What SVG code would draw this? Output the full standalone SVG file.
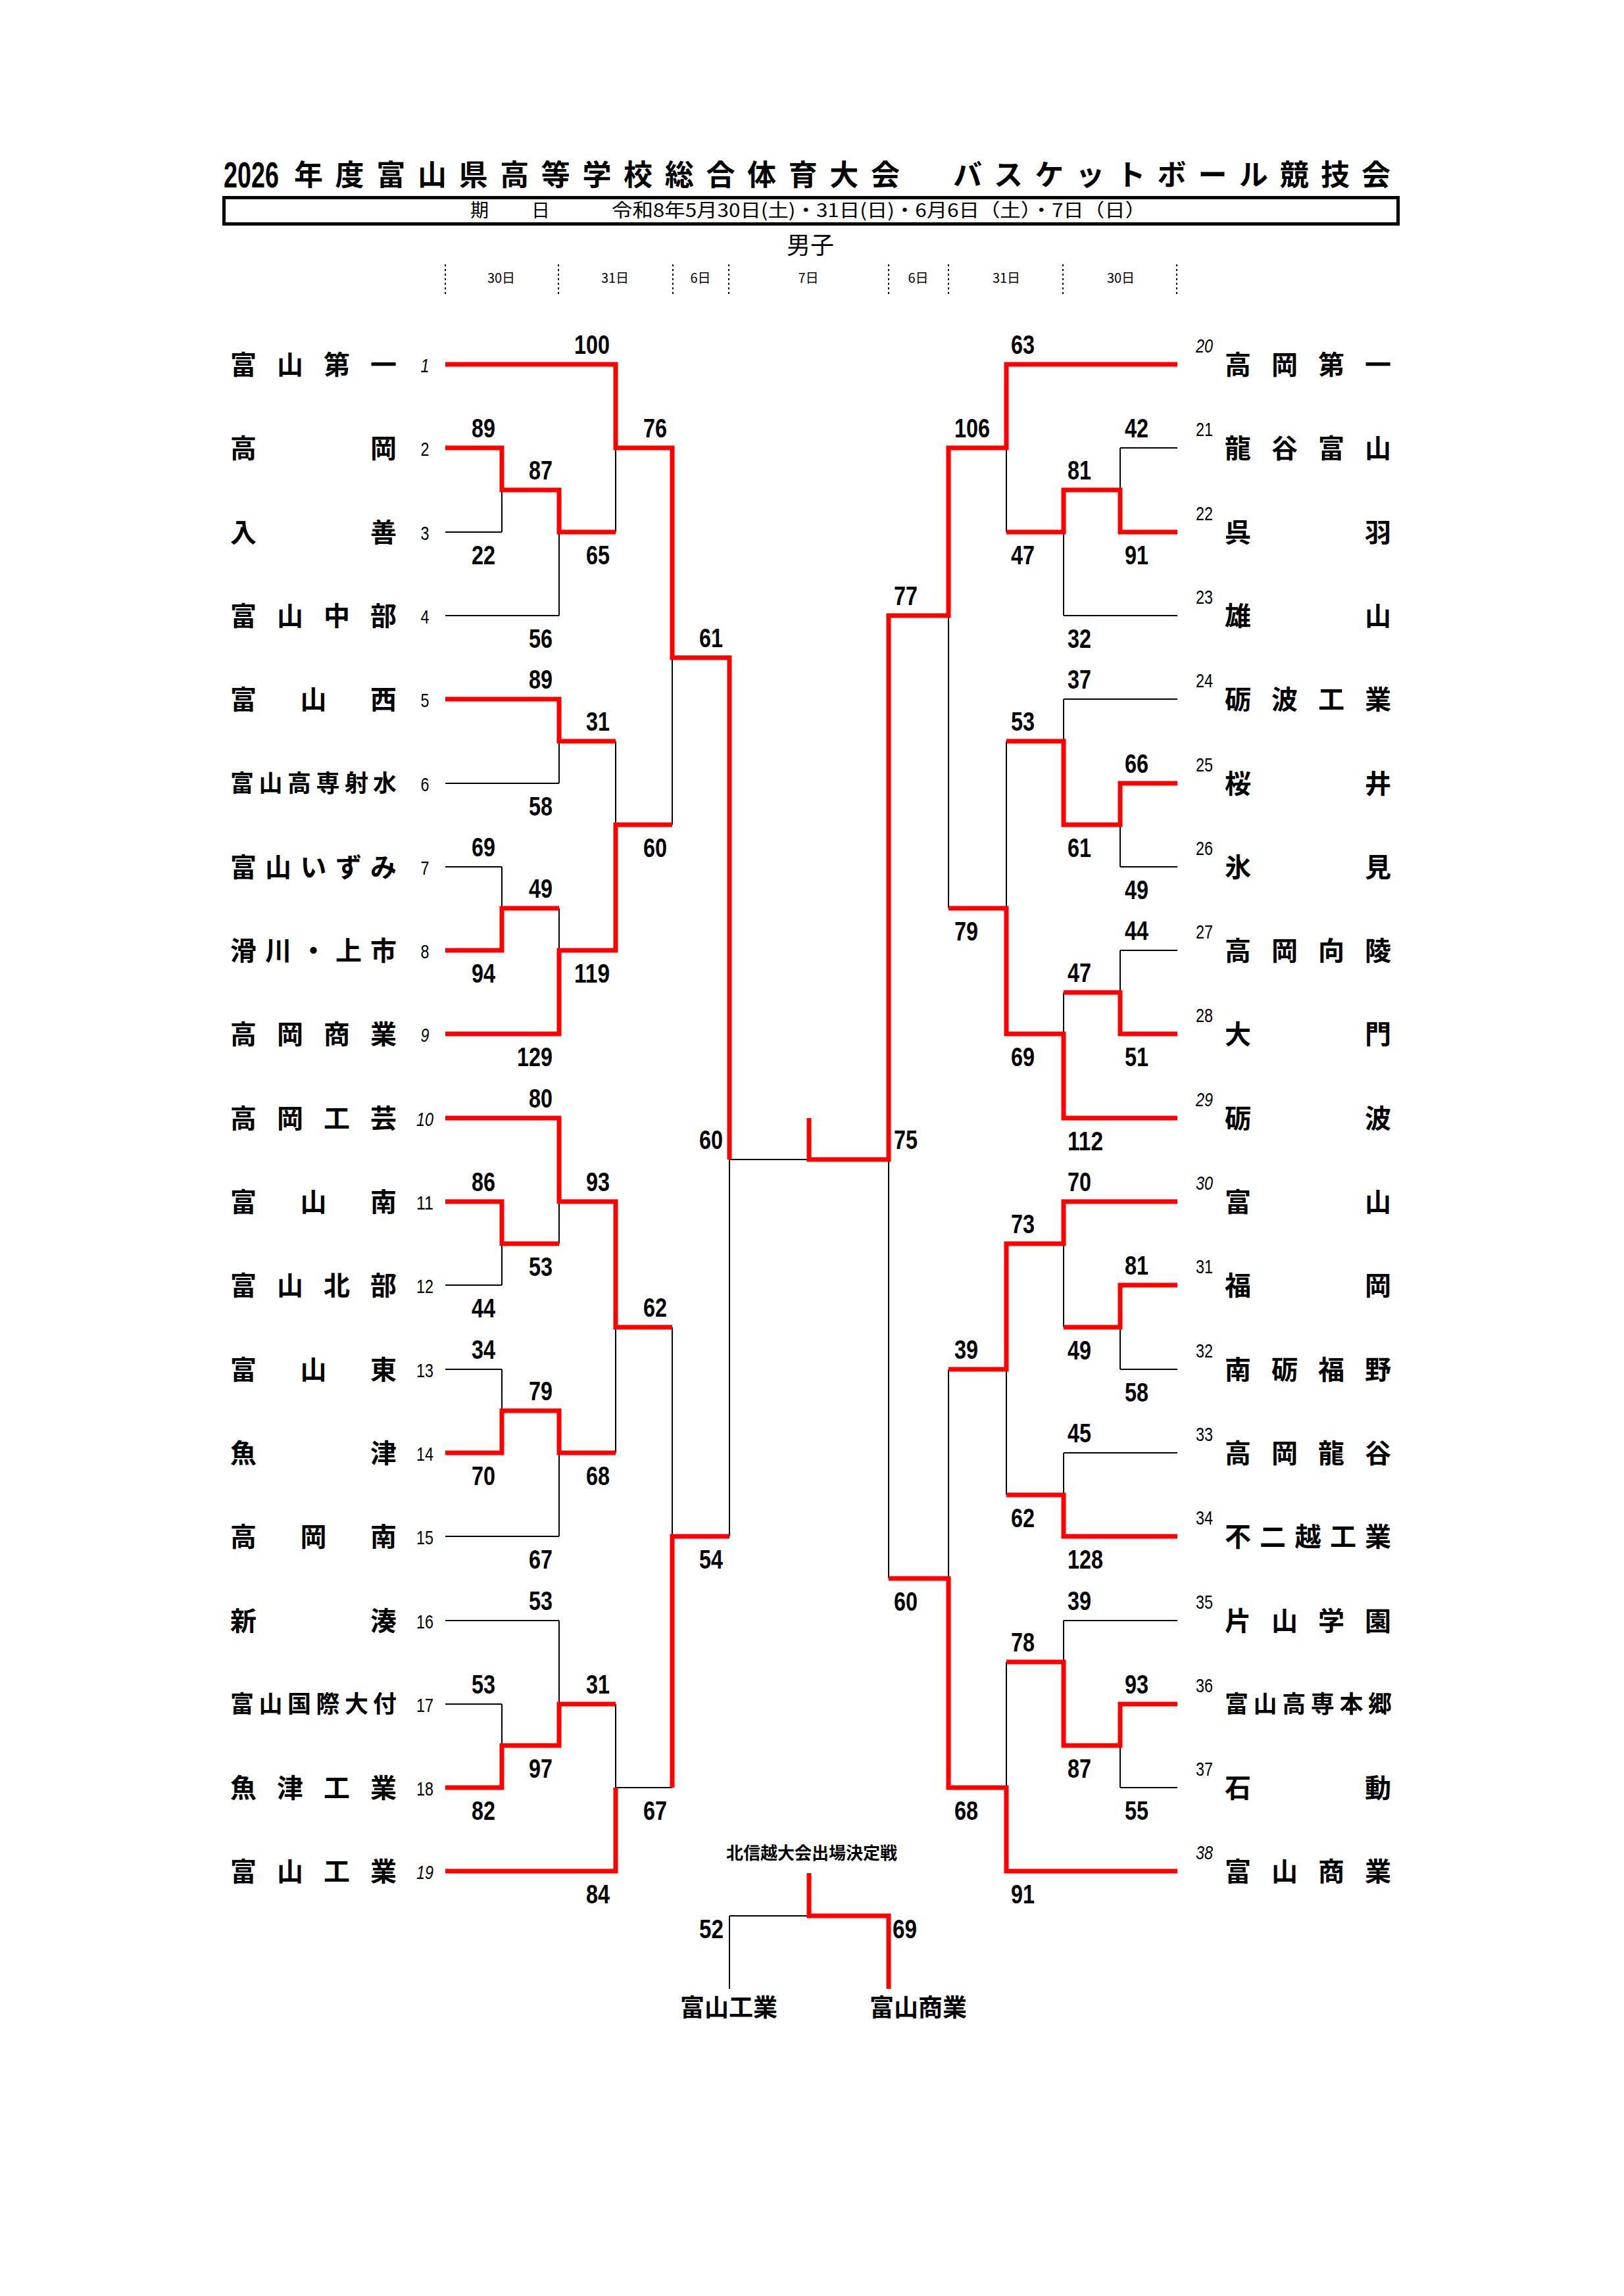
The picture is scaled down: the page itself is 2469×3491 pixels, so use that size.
<svg xmlns="http://www.w3.org/2000/svg" width="2469" height="3491" viewBox="0 0 2469 3491">
<style>
.r{fill:none;stroke:#ff0000;stroke-width:7;stroke-linejoin:miter}
.k{fill:none;stroke:#000;stroke-width:2}
.dot{fill:none;stroke:#000;stroke-width:2;stroke-dasharray:3 4}
.jp{font-family:"Noto Sans CJK JP",sans-serif}
.nm{font-family:"Noto Sans CJK JP",sans-serif;font-weight:700;font-size:40px;text-anchor:middle}
.n6{font-size:36px}
.sc{font-family:"Liberation Sans",sans-serif;font-weight:700;font-size:41px}
.sd{font-family:"Liberation Sans",sans-serif;font-size:30px}
.it{font-style:italic}
.hd{font-family:"Noto Sans CJK JP",sans-serif;font-size:20px;text-anchor:middle}
</style>
<rect width="2469" height="3491" fill="#fff"/>
<g id="header">
<text class="sc" x="340" y="285" transform="matrix(1 0 0 1.25 0 -71.25)" style="font-size:44px" textLength="84" lengthAdjust="spacingAndGlyphs">2026</text>
<text class="nm" y="282" x="469 531.6 594.3 656.9 719.6 782.2 844.8 907.5 970.1 1032.8 1095.4 1158 1220.7 1283.3 1346" style="font-size:44px">年度富山県高等学校総合体育大会</text>
<text class="nm" y="282" x="1471 1533.1 1595.2 1657.3 1719.4 1781.5 1843.6 1905.7 1967.8 2029.9 2092" style="font-size:44px">バスケットボール競技会</text>
<rect x="340.5" y="300.5" width="1785" height="40" fill="none" stroke="#000" stroke-width="5"/>
<text class="jp" font-size="28" y="330" x="729" text-anchor="middle">期</text>
<text class="jp" font-size="28" y="330" x="822" text-anchor="middle">日</text>
<text class="jp" font-size="28" y="330" x="930" textLength="812" lengthAdjust="spacingAndGlyphs">令和8年5月30日(土)・31日(日)・6月6日（土）・7日（日）</text>
<text class="jp" font-size="36" x="1232" y="386" text-anchor="middle">男子</text>
<path class="dot" d="M677,402V447M849,402V447M1023,402V447M1108,402V447M1351,402V447M1442,402V447M1616,402V447M1789,402V447"/>
<text class="hd" x="762" y="430">30日</text>
<text class="hd" x="935" y="430">31日</text>
<text class="hd" x="1065" y="430">6日</text>
<text class="hd" x="1229" y="430">7日</text>
<text class="hd" x="1396" y="430">6日</text>
<text class="hd" x="1530" y="430">31日</text>
<text class="hd" x="1704" y="430">30日</text>
</g>
<g id="teams-left">
<g id="t1"><text class="nm" y="569" x="370 441 512 583">富山第一</text><text class="sd it" x="639.5" y="566" textLength="13" lengthAdjust="spacingAndGlyphs">1</text></g>
<g id="t2"><text class="nm" y="696" x="370 583">高岡</text><text class="sd" x="639.5" y="693" textLength="13" lengthAdjust="spacingAndGlyphs">2</text></g>
<g id="t3"><text class="nm" y="824" x="370 583">入善</text><text class="sd" x="639.5" y="821" textLength="13" lengthAdjust="spacingAndGlyphs">3</text></g>
<g id="t4"><text class="nm" y="951" x="370 441 512 583">富山中部</text><text class="sd" x="639.5" y="948" textLength="13" lengthAdjust="spacingAndGlyphs">4</text></g>
<g id="t5"><text class="nm" y="1078" x="370 476.5 583">富山西</text><text class="sd" x="639.5" y="1075" textLength="13" lengthAdjust="spacingAndGlyphs">5</text></g>
<g id="t6"><text class="nm n6" y="1204" x="368 411.5 455 498.5 542 585">富山高専射水</text><text class="sd" x="639.5" y="1203" textLength="13" lengthAdjust="spacingAndGlyphs">6</text></g>
<g id="t7"><text class="nm" y="1333" x="370 423 476.5 530 583">富山いずみ</text><text class="sd" x="639.5" y="1330" textLength="13" lengthAdjust="spacingAndGlyphs">7</text></g>
<g id="t8"><text class="nm" y="1460" x="370 423 476.5 530 583">滑川・上市</text><text class="sd" x="639.5" y="1457" textLength="13" lengthAdjust="spacingAndGlyphs">8</text></g>
<g id="t9"><text class="nm" y="1587" x="370 441 512 583">高岡商業</text><text class="sd it" x="639.5" y="1584" textLength="13" lengthAdjust="spacingAndGlyphs">9</text></g>
<g id="t10"><text class="nm" y="1715" x="370 441 512 583">高岡工芸</text><text class="sd it" x="633" y="1712" textLength="26" lengthAdjust="spacingAndGlyphs">10</text></g>
<g id="t11"><text class="nm" y="1842" x="370 476.5 583">富山南</text><text class="sd" x="633" y="1839" textLength="26" lengthAdjust="spacingAndGlyphs">11</text></g>
<g id="t12"><text class="nm" y="1969" x="370 441 512 583">富山北部</text><text class="sd" x="633" y="1966" textLength="26" lengthAdjust="spacingAndGlyphs">12</text></g>
<g id="t13"><text class="nm" y="2097" x="370 476.5 583">富山東</text><text class="sd" x="633" y="2094" textLength="26" lengthAdjust="spacingAndGlyphs">13</text></g>
<g id="t14"><text class="nm" y="2224" x="370 583">魚津</text><text class="sd" x="633" y="2221" textLength="26" lengthAdjust="spacingAndGlyphs">14</text></g>
<g id="t15"><text class="nm" y="2351" x="370 476.5 583">高岡南</text><text class="sd" x="633" y="2348" textLength="26" lengthAdjust="spacingAndGlyphs">15</text></g>
<g id="t16"><text class="nm" y="2479" x="370 583">新湊</text><text class="sd" x="633" y="2476" textLength="26" lengthAdjust="spacingAndGlyphs">16</text></g>
<g id="t17"><text class="nm n6" y="2604" x="368 411.5 455 498.5 542 585">富山国際大付</text><text class="sd" x="633" y="2603" textLength="26" lengthAdjust="spacingAndGlyphs">17</text></g>
<g id="t18"><text class="nm" y="2733" x="370 441 512 583">魚津工業</text><text class="sd" x="633" y="2730" textLength="26" lengthAdjust="spacingAndGlyphs">18</text></g>
<g id="t19"><text class="nm" y="2860" x="370 441 512 583">富山工業</text><text class="sd it" x="633" y="2857" textLength="26" lengthAdjust="spacingAndGlyphs">19</text></g>
</g>
<g id="teams-right">
<g id="t20"><text class="nm" y="569" x="1882 1953 2024 2095">高岡第一</text><text class="sd it" x="1818" y="536" textLength="26" lengthAdjust="spacingAndGlyphs">20</text></g>
<g id="t21"><text class="nm" y="696" x="1882 1953 2024 2095">龍谷富山</text><text class="sd" x="1818" y="663" textLength="26" lengthAdjust="spacingAndGlyphs">21</text></g>
<g id="t22"><text class="nm" y="824" x="1882 2095">呉羽</text><text class="sd" x="1818" y="791" textLength="26" lengthAdjust="spacingAndGlyphs">22</text></g>
<g id="t23"><text class="nm" y="951" x="1882 2095">雄山</text><text class="sd" x="1818" y="918" textLength="26" lengthAdjust="spacingAndGlyphs">23</text></g>
<g id="t24"><text class="nm" y="1078" x="1882 1953 2024 2095">砺波工業</text><text class="sd" x="1818" y="1045" textLength="26" lengthAdjust="spacingAndGlyphs">24</text></g>
<g id="t25"><text class="nm" y="1206" x="1882 2095">桜井</text><text class="sd" x="1818" y="1173" textLength="26" lengthAdjust="spacingAndGlyphs">25</text></g>
<g id="t26"><text class="nm" y="1333" x="1882 2095">氷見</text><text class="sd" x="1818" y="1300" textLength="26" lengthAdjust="spacingAndGlyphs">26</text></g>
<g id="t27"><text class="nm" y="1460" x="1882 1953 2024 2095">高岡向陵</text><text class="sd" x="1818" y="1427" textLength="26" lengthAdjust="spacingAndGlyphs">27</text></g>
<g id="t28"><text class="nm" y="1587" x="1882 2095">大門</text><text class="sd" x="1818" y="1554" textLength="26" lengthAdjust="spacingAndGlyphs">28</text></g>
<g id="t29"><text class="nm" y="1715" x="1882 2095">砺波</text><text class="sd it" x="1818" y="1682" textLength="26" lengthAdjust="spacingAndGlyphs">29</text></g>
<g id="t30"><text class="nm" y="1842" x="1882 2095">富山</text><text class="sd it" x="1818" y="1809" textLength="26" lengthAdjust="spacingAndGlyphs">30</text></g>
<g id="t31"><text class="nm" y="1969" x="1882 2095">福岡</text><text class="sd" x="1818" y="1936" textLength="26" lengthAdjust="spacingAndGlyphs">31</text></g>
<g id="t32"><text class="nm" y="2097" x="1882 1953 2024 2095">南砺福野</text><text class="sd" x="1818" y="2064" textLength="26" lengthAdjust="spacingAndGlyphs">32</text></g>
<g id="t33"><text class="nm" y="2224" x="1882 1953 2024 2095">高岡龍谷</text><text class="sd" x="1818" y="2191" textLength="26" lengthAdjust="spacingAndGlyphs">33</text></g>
<g id="t34"><text class="nm" y="2351" x="1882 1935 1988.5 2042 2095">不二越工業</text><text class="sd" x="1818" y="2318" textLength="26" lengthAdjust="spacingAndGlyphs">34</text></g>
<g id="t35"><text class="nm" y="2479" x="1882 1953 2024 2095">片山学園</text><text class="sd" x="1818" y="2446" textLength="26" lengthAdjust="spacingAndGlyphs">35</text></g>
<g id="t36"><text class="nm n6" y="2604" x="1880 1923.6 1967.2 2010.8 2054.4 2098">富山高専本郷</text><text class="sd" x="1818" y="2573" textLength="26" lengthAdjust="spacingAndGlyphs">36</text></g>
<g id="t37"><text class="nm" y="2733" x="1882 2095">石動</text><text class="sd" x="1818" y="2700" textLength="26" lengthAdjust="spacingAndGlyphs">37</text></g>
<g id="t38"><text class="nm" y="2860" x="1882 1953 2024 2095">富山商業</text><text class="sd it" x="1818" y="2827" textLength="26" lengthAdjust="spacingAndGlyphs">38</text></g>
</g>
<g id="connectors">
<path class="k" d="M677,809H763M763,745V809M677,936H850M850,809V936M936,681V809M677,1191H850M850,1127V1191M936,1127V1254M677,1318H763M763,1318V1381M850,1381V1445M1022,1000V1254M677,1954H763M763,1891V1954M850,1827V1891M677,2082H763M763,2082V2145M677,2336H850M850,2209V2336M936,2018V2209M677,2464H850M850,2464V2591M677,2591H763M763,2591V2654M936,2591V2718M936,2718H1022M1022,2018V2336M1109,1763V2336M1109,1763H1230"/>
<path class="k" d="M1790,681H1703M1703,681V745M1790,936H1617M1617,809V936M1530,681V809M1790,1063H1617M1617,1063V1127M1790,1318H1703M1703,1254V1318M1530,1127V1381M1790,1445H1703M1703,1445V1509M1617,1509V1572M1442,936V1381M1351,1763V2400M1790,2082H1703M1703,2018V2082M1617,1891V2018M1790,2209H1617M1617,2209V2273M1530,2082V2273M1442,2082V2400M1790,2464H1617M1617,2464V2527M1790,2718H1703M1703,2654V2718M1530,2527V2718"/>
<polyline class="r" points="677,554 936,554 936,681 1022,681 1022,1000 1109,1000 1109,1763"/>
<polyline class="r" points="677,681 763,681 763,745 850,745 850,809 936,809"/>
<polyline class="r" points="677,1063 850,1063 850,1127 936,1127"/>
<polyline class="r" points="677,1445 763,1445 763,1381 850,1381"/>
<polyline class="r" points="677,1572 850,1572 850,1445 936,1445 936,1254 1022,1254"/>
<polyline class="r" points="677,1700 850,1700 850,1827 936,1827 936,2018 1022,2018"/>
<polyline class="r" points="677,1827 763,1827 763,1891 850,1891"/>
<polyline class="r" points="677,2209 763,2209 763,2145 850,2145 850,2209 936,2209"/>
<polyline class="r" points="677,2718 763,2718 763,2654 850,2654 850,2591 936,2591"/>
<polyline class="r" points="677,2845 936,2845 936,2718"/>
<polyline class="r" points="1022,2718 1022,2336 1109,2336"/>
<polyline class="r" points="1790,554 1530,554 1530,681 1442,681 1442,936 1351,936 1351,1763 1230,1763 1230,1700"/>
<polyline class="r" points="1790,809 1703,809 1703,745 1617,745 1617,809 1530,809"/>
<polyline class="r" points="1790,1191 1703,1191 1703,1254 1617,1254 1617,1127 1530,1127"/>
<polyline class="r" points="1790,1572 1703,1572 1703,1509 1617,1509"/>
<polyline class="r" points="1790,1700 1617,1700 1617,1572 1530,1572 1530,1381 1442,1381"/>
<polyline class="r" points="1790,1827 1617,1827 1617,1891 1530,1891 1530,2082 1442,2082"/>
<polyline class="r" points="1790,1954 1703,1954 1703,2018 1617,2018"/>
<polyline class="r" points="1790,2336 1617,2336 1617,2273 1530,2273"/>
<polyline class="r" points="1790,2591 1703,2591 1703,2654 1617,2654 1617,2527 1530,2527"/>
<polyline class="r" points="1790,2845 1530,2845 1530,2718 1442,2718 1442,2400 1351,2400"/>
<path class="k" d="M1109,2913H1230M1109,2913V3024"/>
<polyline class="r" points="1230,2848 1230,2913 1351,2913 1351,3024"/>
</g>
<g id="scores" class="sc">
<text x="873" y="538" textLength="54" lengthAdjust="spacingAndGlyphs">100</text>
<text x="717" y="665" textLength="36" lengthAdjust="spacingAndGlyphs">89</text>
<text x="717" y="858" textLength="36" lengthAdjust="spacingAndGlyphs">22</text>
<text x="804" y="729" textLength="36" lengthAdjust="spacingAndGlyphs">87</text>
<text x="804" y="985" textLength="36" lengthAdjust="spacingAndGlyphs">56</text>
<text x="891" y="858" textLength="36" lengthAdjust="spacingAndGlyphs">65</text>
<text x="978" y="665" textLength="36" lengthAdjust="spacingAndGlyphs">76</text>
<text x="804" y="1047" textLength="36" lengthAdjust="spacingAndGlyphs">89</text>
<text x="804" y="1240" textLength="36" lengthAdjust="spacingAndGlyphs">58</text>
<text x="891" y="1111" textLength="36" lengthAdjust="spacingAndGlyphs">31</text>
<text x="717" y="1302" textLength="36" lengthAdjust="spacingAndGlyphs">69</text>
<text x="717" y="1494" textLength="36" lengthAdjust="spacingAndGlyphs">94</text>
<text x="804" y="1365" textLength="36" lengthAdjust="spacingAndGlyphs">49</text>
<text x="786" y="1621" textLength="54" lengthAdjust="spacingAndGlyphs">129</text>
<text x="873" y="1494" textLength="54" lengthAdjust="spacingAndGlyphs">119</text>
<text x="978" y="1303" textLength="36" lengthAdjust="spacingAndGlyphs">60</text>
<text x="1063" y="984" textLength="36" lengthAdjust="spacingAndGlyphs">61</text>
<text x="804" y="1684" textLength="36" lengthAdjust="spacingAndGlyphs">80</text>
<text x="717" y="1811" textLength="36" lengthAdjust="spacingAndGlyphs">86</text>
<text x="717" y="2003" textLength="36" lengthAdjust="spacingAndGlyphs">44</text>
<text x="804" y="1940" textLength="36" lengthAdjust="spacingAndGlyphs">53</text>
<text x="891" y="1811" textLength="36" lengthAdjust="spacingAndGlyphs">93</text>
<text x="717" y="2066" textLength="36" lengthAdjust="spacingAndGlyphs">34</text>
<text x="717" y="2258" textLength="36" lengthAdjust="spacingAndGlyphs">70</text>
<text x="804" y="2129" textLength="36" lengthAdjust="spacingAndGlyphs">79</text>
<text x="804" y="2385" textLength="36" lengthAdjust="spacingAndGlyphs">67</text>
<text x="891" y="2258" textLength="36" lengthAdjust="spacingAndGlyphs">68</text>
<text x="978" y="2002" textLength="36" lengthAdjust="spacingAndGlyphs">62</text>
<text x="804" y="2448" textLength="36" lengthAdjust="spacingAndGlyphs">53</text>
<text x="717" y="2575" textLength="36" lengthAdjust="spacingAndGlyphs">53</text>
<text x="717" y="2767" textLength="36" lengthAdjust="spacingAndGlyphs">82</text>
<text x="804" y="2703" textLength="36" lengthAdjust="spacingAndGlyphs">97</text>
<text x="891" y="2575" textLength="36" lengthAdjust="spacingAndGlyphs">31</text>
<text x="891" y="2894" textLength="36" lengthAdjust="spacingAndGlyphs">84</text>
<text x="978" y="2767" textLength="36" lengthAdjust="spacingAndGlyphs">67</text>
<text x="1063" y="2385" textLength="36" lengthAdjust="spacingAndGlyphs">54</text>
<text x="1063" y="1747" textLength="36" lengthAdjust="spacingAndGlyphs">60</text>
<text x="1537" y="538" textLength="36" lengthAdjust="spacingAndGlyphs">63</text>
<text x="1710" y="665" textLength="36" lengthAdjust="spacingAndGlyphs">42</text>
<text x="1710" y="858" textLength="36" lengthAdjust="spacingAndGlyphs">91</text>
<text x="1623" y="729" textLength="36" lengthAdjust="spacingAndGlyphs">81</text>
<text x="1623" y="985" textLength="36" lengthAdjust="spacingAndGlyphs">32</text>
<text x="1537" y="858" textLength="36" lengthAdjust="spacingAndGlyphs">47</text>
<text x="1451" y="665" textLength="54" lengthAdjust="spacingAndGlyphs">106</text>
<text x="1623" y="1047" textLength="36" lengthAdjust="spacingAndGlyphs">37</text>
<text x="1710" y="1175" textLength="36" lengthAdjust="spacingAndGlyphs">66</text>
<text x="1710" y="1367" textLength="36" lengthAdjust="spacingAndGlyphs">49</text>
<text x="1623" y="1303" textLength="36" lengthAdjust="spacingAndGlyphs">61</text>
<text x="1537" y="1111" textLength="36" lengthAdjust="spacingAndGlyphs">53</text>
<text x="1710" y="1429" textLength="36" lengthAdjust="spacingAndGlyphs">44</text>
<text x="1710" y="1621" textLength="36" lengthAdjust="spacingAndGlyphs">51</text>
<text x="1623" y="1493" textLength="36" lengthAdjust="spacingAndGlyphs">47</text>
<text x="1623" y="1749" textLength="54" lengthAdjust="spacingAndGlyphs">112</text>
<text x="1537" y="1621" textLength="36" lengthAdjust="spacingAndGlyphs">69</text>
<text x="1451" y="1430" textLength="36" lengthAdjust="spacingAndGlyphs">79</text>
<text x="1359" y="920" textLength="36" lengthAdjust="spacingAndGlyphs">77</text>
<text x="1359" y="1747" textLength="36" lengthAdjust="spacingAndGlyphs">75</text>
<text x="1623" y="1811" textLength="36" lengthAdjust="spacingAndGlyphs">70</text>
<text x="1710" y="1938" textLength="36" lengthAdjust="spacingAndGlyphs">81</text>
<text x="1710" y="2131" textLength="36" lengthAdjust="spacingAndGlyphs">58</text>
<text x="1623" y="2067" textLength="36" lengthAdjust="spacingAndGlyphs">49</text>
<text x="1537" y="1875" textLength="36" lengthAdjust="spacingAndGlyphs">73</text>
<text x="1623" y="2193" textLength="36" lengthAdjust="spacingAndGlyphs">45</text>
<text x="1623" y="2385" textLength="54" lengthAdjust="spacingAndGlyphs">128</text>
<text x="1537" y="2322" textLength="36" lengthAdjust="spacingAndGlyphs">62</text>
<text x="1451" y="2066" textLength="36" lengthAdjust="spacingAndGlyphs">39</text>
<text x="1623" y="2448" textLength="36" lengthAdjust="spacingAndGlyphs">39</text>
<text x="1710" y="2575" textLength="36" lengthAdjust="spacingAndGlyphs">93</text>
<text x="1710" y="2767" textLength="36" lengthAdjust="spacingAndGlyphs">55</text>
<text x="1623" y="2703" textLength="36" lengthAdjust="spacingAndGlyphs">87</text>
<text x="1537" y="2511" textLength="36" lengthAdjust="spacingAndGlyphs">78</text>
<text x="1537" y="2894" textLength="36" lengthAdjust="spacingAndGlyphs">91</text>
<text x="1451" y="2767" textLength="36" lengthAdjust="spacingAndGlyphs">68</text>
<text x="1359" y="2449" textLength="36" lengthAdjust="spacingAndGlyphs">60</text>
<text x="1063" y="2947" textLength="37" lengthAdjust="spacingAndGlyphs">52</text>
<text x="1357" y="2947" textLength="37" lengthAdjust="spacingAndGlyphs">69</text>
</g>
<g id="playoff">
<text class="nm" x="1234" y="2827" style="font-size:26px">北信越大会出場決定戦</text>
<text class="nm" x="1108" y="3066" style="font-size:37px">富山工業</text>
<text class="nm" x="1396" y="3066" style="font-size:37px">富山商業</text>
</g>
</svg>
